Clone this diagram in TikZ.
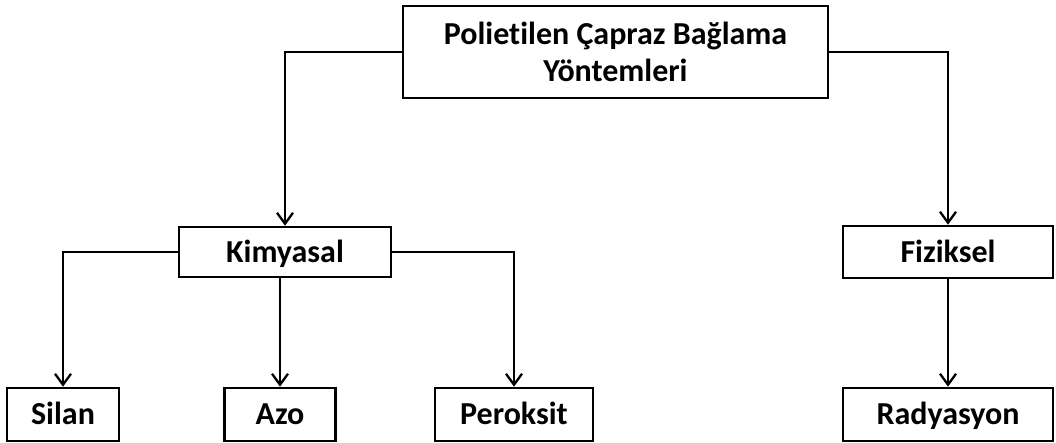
\documentclass[tikz,border=0pt]{standalone}
\usepackage{fontspec}
\setmainfont{Carlito}[Ligatures=NoCommon]
\usetikzlibrary{arrows.meta}
\tikzstyle{arrow} = [line width=2.3pt,-{Straight Barb[length=11pt,width=16pt,line width=2.3pt]}]
\tikzstyle{block} = [rectangle, draw, line width=2.6pt, align=center, inner sep=0pt, minimum height=53pt, font=\fontsize{32}{37}\selectfont\bfseries]
\tikzstyle{leaf} = [block, text height=24pt, text depth=4pt]

\begin{document}
\begin{tikzpicture}[x=1pt, y=-1pt]
  \useasboundingbox (0,0) rectangle (1056,442);
  \node (root) [block, minimum width=425pt, minimum height=92pt] at (615.5,52) {Polietilen Çapraz Bağlama\\Yöntemleri};
  \node (kim) [leaf, minimum width=212pt, minimum height=50pt] at (285,252) {Kimyasal};
  \node (fiz) [leaf, minimum width=210pt, minimum height=52pt] at (948,252) {Fiziksel};
  \node (silan) [leaf, minimum width=112pt] at (63,414.5) {Silan};
  \node (azo) [leaf, minimum width=111pt] at (280,414.5) {Azo};
  \node (perok) [leaf, minimum width=158pt] at (514,414.5) {Peroksit};
  \node (radya) [leaf, minimum width=210pt] at (948,414.5) {Radyasyon};

  \draw[arrow] (root.west) -| (kim.north);
  \draw[arrow] (root.east) -| (fiz.north);
  \draw[arrow] (kim.west) -| (silan.north);
  \draw[arrow] (kim.south -| azo.north) -- (azo.north);
  \draw[arrow] (kim.east) -| (perok.north);
  \draw[arrow] (fiz.south) -- (radya.north);
\end{tikzpicture}
\end{document}
